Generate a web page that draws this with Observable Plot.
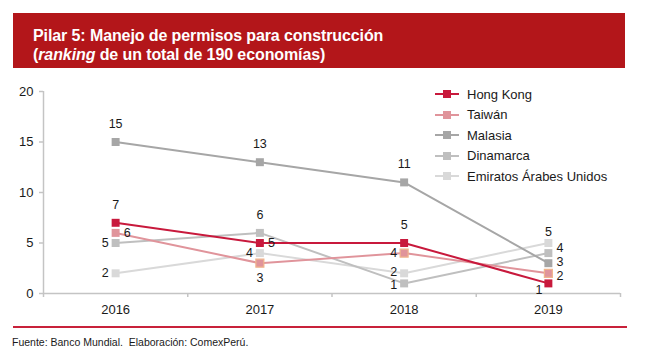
<!DOCTYPE html>
<html>
<head>
<meta charset="utf-8">
<script src="https://cdn.jsdelivr.net/npm/d3@7"></script>
<script src="https://cdn.jsdelivr.net/npm/@observablehq/plot@0.6"></script>
<style>
  html, body { margin: 0; padding: 0; background: #fff; }
  body { width: 649px; height: 353px; position: relative; overflow: hidden; font-family: "Liberation Sans", Arial, sans-serif; }
  #header { position: absolute; left: 13px; top: 13px; width: 612px; height: 55px; background: #B3161A; }
  #title { position: absolute; left: 20px; top: 13px; color: #fff; font-family: "Liberation Sans", Arial, sans-serif; font-weight: bold; font-size: 16px; line-height: 19px; letter-spacing: -0.1px; }
  #chart { position: absolute; left: 0; top: 70px; }
  #legend { position: absolute; left: 435px; top: 84px; font-size: 13px; color: #1a1a1a; }
  .lg { height: 20.5px; display: flex; align-items: center; }
  .lg svg { margin-right: 8px; }
  #rule { position: absolute; left: 13px; top: 326px; width: 614px; height: 2px; background: #C8213A; }
  #footer { position: absolute; left: 12px; top: 336px; font-size: 10.5px; color: #1a1a1a; }
</style>
</head>
<body>
<div id="header"><div id="title">Pilar 5: Manejo de permisos para construcción<br>(<i>ranking</i> de un total de 190 economías)</div></div>
<div id="chart"></div>
<div id="legend"></div>
<div id="rule"></div>
<div id="footer">Fuente: Banco Mundial.&nbsp; Elaboración: ComexPerú.</div>
<script>
const years = [2016, 2017, 2018, 2019];
const series = ["Hong Kong", "Taiwán", "Malasia", "Dinamarca", "Emiratos Árabes Unidos"];
const hongKong = [7, 5, 5, 1];
const taiwan = [6, 3, 4, 2];
const malasia = [15, 13, 11, 3];
const dinamarca = [5, 6, 1, 4];
const emiratos = [2, 4, 2, 5];
const yTicks = [0, 5, 10, 15, 20];

const colors = ["#C8193C", "#E0949B", "#A6A6A6", "#BFBFBF", "#D9D9D9"];
// label placement per series (by year index)
const placement = {
  "Hong Kong": ["above", "right", "above", "belowleft"],
  "Taiwán": ["right", "below", "left", "rightdown"],
  "Malasia": ["above", "above", "above", "rightslight"],
  "Dinamarca": ["left", "above", "leftdown", "rightup"],
  "Emiratos Árabes Unidos": ["left", "left", "leftup", "aboveclose"]
};

const valuesBySeries = [hongKong, taiwan, malasia, dinamarca, emiratos];
const data = [];
series.forEach((s, i) => years.forEach((y, j) => data.push({series: s, year: y, value: valuesBySeries[i][j], pos: placement[s][j]})));
const drawOrder = [...series].reverse();
const ordered = drawOrder.flatMap(s => data.filter(d => d.series === s));

const boundaries = [years[0] - 0.5, ...years.map(y => y + 0.5)];
const axisColor = "#C4C4C4";

const labelMarks = [
  ["above", {dy: -18, textAnchor: "middle"}],
  ["aboveclose", {dy: -11, textAnchor: "middle"}],
  ["below", {dy: 15, textAnchor: "middle"}],
  ["right", {dx: 8, textAnchor: "start"}],
  ["rightslight", {dx: 8, dy: -1, textAnchor: "start"}],
  ["rightup", {dx: 8, dy: -5, textAnchor: "start"}],
  ["rightdown", {dx: 8, dy: 3, textAnchor: "start"}],
  ["left", {dx: -7, textAnchor: "end"}],
  ["leftup", {dx: -7, dy: -1, textAnchor: "end"}],
  ["leftdown", {dx: -7, dy: 2, textAnchor: "end"}],
  ["belowleft", {dx: -6, dy: 7, textAnchor: "end"}]
].map(([p, o]) => Plot.text(data.filter(d => d.pos === p), {x: "year", y: "value", text: d => String(d.value), fontSize: 12.5, fill: "#1a1a1a", ...o}));

const chart = Plot.plot({
  width: 649,
  height: 253,
  marginLeft: 43,
  marginRight: 29,
  marginTop: 21,
  marginBottom: 30,
  style: {fontFamily: "'Liberation Sans', Arial, sans-serif", fontSize: "13px", color: "#1a1a1a", background: "transparent"},
  x: {domain: [boundaries[0], boundaries[boundaries.length - 1]], axis: null, label: null},
  y: {domain: [0, 20], axis: null, label: null},
  color: {domain: series, range: colors},
  marks: [
    Plot.ruleX([boundaries[0]], {y1: 0, y2: 20, stroke: axisColor, strokeWidth: 1.5}),
    Plot.axisY(yTicks, {label: null, tickSize: 4, tickPadding: 6, stroke: axisColor, strokeWidth: 1.5, fill: "#1a1a1a", fontSize: 13, tickFormat: d => String(d)}),
    Plot.ruleY([0], {x1: boundaries[0], x2: boundaries[boundaries.length - 1], stroke: axisColor, strokeWidth: 1.5}),
    Plot.axisX(boundaries, {label: null, tickSize: 4, stroke: axisColor, strokeWidth: 1.5, tickFormat: () => ""}),
    Plot.axisX(years, {label: null, tickSize: 0, tickPadding: 11, fill: "#1a1a1a", fontSize: 13, tickFormat: d => String(d)}),
    ...drawOrder.map(s => Plot.line(data.filter(d => d.series === s), {x: "year", y: "value", stroke: "series", strokeWidth: 2})),
    Plot.dot(ordered, {x: "year", y: "value", symbol: "square", r: 4.5, fill: "series",
      stroke: d => (d.series === "Taiwán" && d.year > years[0]) ? "#F0B48C" : "none", strokeWidth: 1.2}),
    ...labelMarks
  ]
});
document.getElementById("chart").appendChild(chart);

const legend = document.getElementById("legend");
series.forEach((s, i) => {
  const row = document.createElement("div");
  row.className = "lg";
  row.innerHTML = `<svg width="24" height="10"><line x1="0" x2="24" y1="5" y2="5" stroke="${colors[i]}" stroke-width="2"/><rect x="8" y="1" width="8" height="8" fill="${colors[i]}"/></svg><span>${s}</span>`;
  legend.appendChild(row);
});
</script>
</body>
</html>
